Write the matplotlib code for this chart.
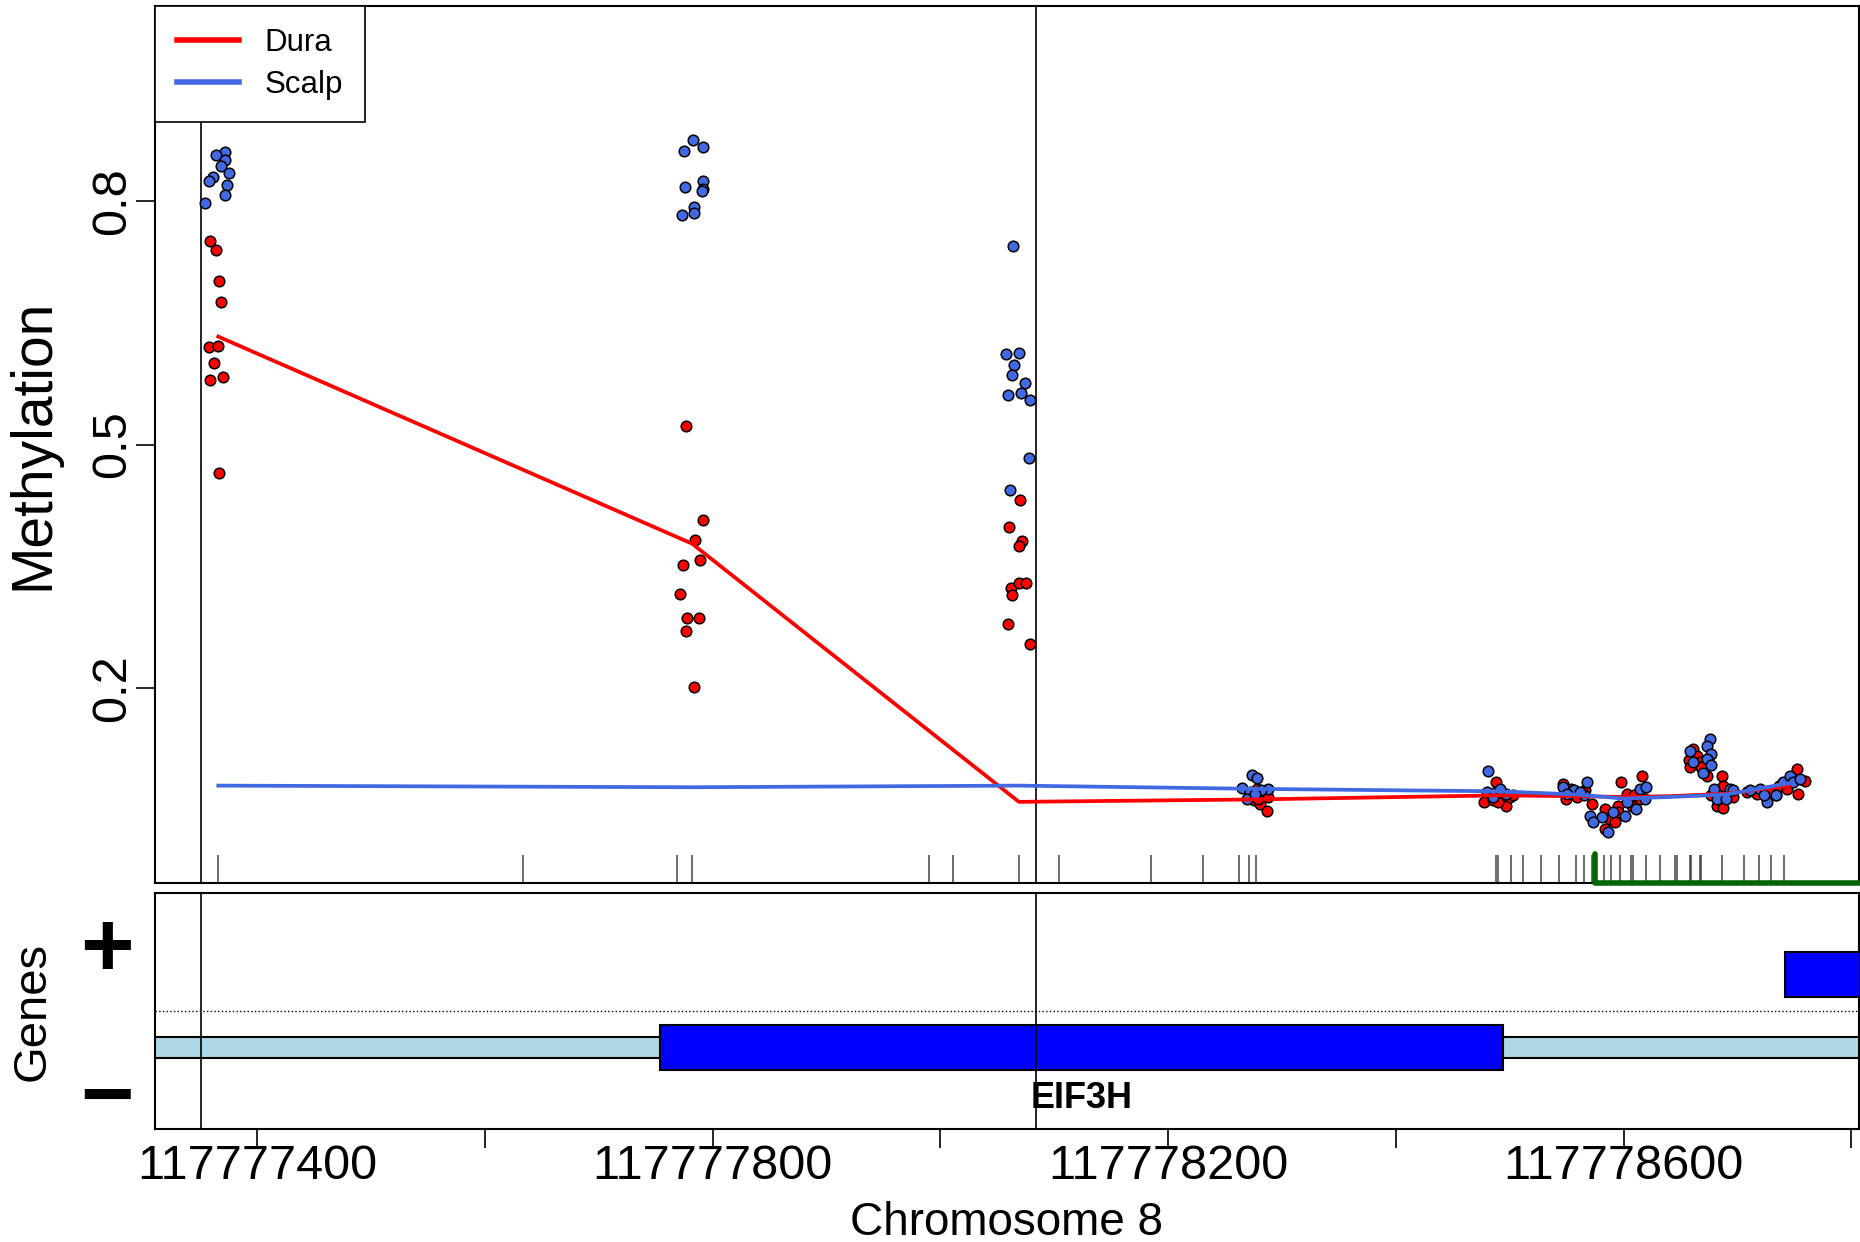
import numpy as np
import matplotlib
matplotlib.use('Agg')
import matplotlib.pyplot as plt
from matplotlib.patches import Rectangle
from matplotlib.lines import Line2D

plt.rcParams['font.family'] = ['Liberation Sans', 'DejaVu Sans']

base = 117777000  # positions below are offsets from this

# CpG sites in window (rug at bottom of top panel)
cpg_pos = [366, 634, 769, 782, 990, 1011, 1069, 1104, 1185, 1231, 1262, 1271, 1277,
           1488, 1490, 1501, 1512, 1527, 1543, 1558, 1565, 1572, 1583, 1589, 1597,
           1606, 1608, 1620, 1632, 1645, 1647, 1658, 1659, 1667, 1668, 1686, 1706,
           1719, 1729, 1741]

# Dura samples (red) : x (jittered position) / methylation
dura_x = [359, 364, 367, 368, 358, 366, 362, 359, 370, 367,
          777, 792, 785, 789, 774, 771, 778, 788, 777, 784,
          1070, 1060, 1072, 1069, 1062, 1069, 1075, 1063, 1059, 1079,
          1278, 1284, 1275, 1281, 1287, 1272, 1288, 1279,
          1488, 1477, 1485, 1497, 1493, 1500, 1490, 1503,
          1547, 1554, 1566, 1572, 1549, 1559,
          1584, 1588, 1584, 1592, 1595,
          1598, 1616, 1603, 1607, 1595, 1614, 1609,
          1661, 1664, 1657, 1667, 1658, 1668, 1673, 1686,
          1687, 1682, 1687, 1696, 1677,
          1708, 1717, 1728, 1736, 1752, 1759, 1753, 1743, 1734]
dura_y = [0.751, 0.740, 0.701, 0.675, 0.620, 0.621, 0.601, 0.580, 0.583, 0.465,
          0.523, 0.407, 0.383, 0.358, 0.352, 0.316, 0.286, 0.286, 0.271, 0.201,
          0.432, 0.399, 0.381, 0.375, 0.323, 0.329, 0.329, 0.315, 0.279, 0.254,
          0.076, 0.068, 0.062, 0.057, 0.049, 0.068, 0.066, 0.064,
          0.085, 0.060, 0.062, 0.055, 0.068, 0.066, 0.060, 0.068,
          0.082, 0.076, 0.074, 0.057, 0.064, 0.066,
          0.051, 0.039, 0.027, 0.035, 0.055,
          0.084, 0.092, 0.070, 0.055, 0.047, 0.064, 0.068,
          0.125, 0.117, 0.111, 0.109, 0.103, 0.103, 0.092, 0.092,
          0.080, 0.055, 0.053, 0.066, 0.068,
          0.072, 0.070, 0.072, 0.080, 0.100, 0.086, 0.070, 0.076, 0.068]

# Scalp samples (blue)
scalp_x = [372, 364, 372, 368, 375, 361, 358, 374, 372, 354,
           783, 775, 792, 792, 776, 792, 791, 784, 784, 773,
           1064, 1058, 1069, 1065, 1063, 1074, 1059, 1071, 1079, 1078, 1061,
           1274, 1278, 1265, 1272, 1288, 1282, 1269, 1276,
           1481, 1480, 1488, 1497, 1491, 1485,
           1547, 1556, 1568, 1565, 1550, 1562,
           1570, 1581, 1586, 1591, 1573,
           1614, 1620, 1611, 1603, 1601, 1619,
           1676, 1673, 1658, 1677, 1661, 1673, 1677, 1670,
           1679, 1693, 1682, 1690, 1696,
           1711, 1720, 1726, 1740, 1746, 1749, 1755, 1734, 1723]
scalp_y = [0.860, 0.856, 0.851, 0.843, 0.835, 0.829, 0.825, 0.820, 0.807, 0.797,
           0.875, 0.862, 0.866, 0.824, 0.817, 0.815, 0.812, 0.793, 0.785, 0.783,
           0.745, 0.612, 0.613, 0.598, 0.586, 0.576, 0.561, 0.563, 0.555, 0.484, 0.444,
           0.093, 0.089, 0.077, 0.072, 0.076, 0.074, 0.064, 0.070,
           0.098, 0.072, 0.072, 0.070, 0.076, 0.066,
           0.078, 0.074, 0.084, 0.068, 0.070, 0.072,
           0.042, 0.041, 0.023, 0.047, 0.035,
           0.076, 0.078, 0.051, 0.060, 0.043, 0.064,
           0.137, 0.129, 0.123, 0.119, 0.109, 0.113, 0.105, 0.096,
           0.076, 0.076, 0.064, 0.064, 0.074,
           0.074, 0.076, 0.060, 0.084, 0.092, 0.084, 0.088, 0.068, 0.068]

# smoothed group lines
line_x = [366, 782, 1069, 1277, 1490, 1560, 1600, 1640, 1690, 1745]
dura_line = [0.633, 0.378, 0.060, 0.063, 0.068, 0.067, 0.066, 0.067, 0.070, 0.080]
scalp_line = [0.080, 0.078, 0.080, 0.076, 0.073, 0.069, 0.064, 0.066, 0.069, 0.083]

dmr_bounds = [351, 1084]   # vertical lines
cgi_start = 1575           # green island segment start

# genes track
tx_minus = (200, 1900)     # EIF3H transcript (extends past the window)
cds_minus = (754, 1494)
gene_label = 'EIF3H'
tx_plus = (1742, 1900)

xlim = (base + 310.4, base + 1806.2)
ylim = (-0.04, 1.04)

fig = plt.figure(figsize=(18.6, 12.42), dpi=100)
ax = fig.add_axes([0.0833, 0.2890, 0.9159, 0.7061])
ax2 = fig.add_axes([0.0833, 0.0910, 0.9159, 0.1900])

dx = base + np.array(dura_x)
sx = base + np.array(scalp_x)

ax.scatter(dx, dura_y, s=58, c='red', edgecolors='black', linewidths=1.1, zorder=3)
ax.scatter(sx, scalp_y, s=58, c='royalblue', edgecolors='black', linewidths=1.1, zorder=3)
lx = base + np.array(line_x)
ax.plot(lx, dura_line, color='red', lw=2.7, zorder=4)
ax.plot(lx, scalp_line, color='royalblue', lw=2.7, zorder=5)

# rug of CpG sites
ax.vlines(base + np.array(cpg_pos), ylim[0], -0.006, colors='#444444', lw=1.1, zorder=2)
# CpG island
ax.plot([base + cgi_start, base + cgi_start, xlim[1]], [-0.004, ylim[0], ylim[0]],
        color='darkgreen', lw=4, solid_capstyle='round', clip_on=False, zorder=6)

for b in dmr_bounds:
    ax.axvline(base + b, color='black', lw=1.2, zorder=2)
    ax2.axvline(base + b, color='black', lw=1.2, zorder=5)

ax.set_xlim(xlim)
ax.set_ylim(ylim)
ax.tick_params(axis='x', bottom=False, labelbottom=False)
ax.set_yticks([0.2, 0.5, 0.8])
ax.set_yticklabels(['0.2', '0.5', '0.8'], rotation=90, va='center')
ax.tick_params(axis='y', length=14, width=1.2, labelsize=35, pad=0)
for sp in ax.spines.values():
    sp.set_linewidth(1.5)
ax.text(-0.0716, 0.5, 'Methylation', transform=ax.transAxes, rotation=90,
        ha='center', va='center', fontsize=41)

leg = ax.legend(handles=[Line2D([], [], color='red', lw=4),
                         Line2D([], [], color='royalblue', lw=4)],
                labels=['Dura', 'Scalp'], loc='upper left', borderaxespad=0,
                fancybox=False, edgecolor='black', framealpha=1, fontsize=22.5,
                handlelength=2.0, handletextpad=0.8, borderpad=0.7, labelspacing=0.38)
leg.get_frame().set_linewidth(1.2)

# genes panel
ax2.set_xlim(xlim)
ax2.set_ylim(0, 1)
ax2.axhline(0.5, color='black', ls=':', lw=1)
ax2.add_patch(Rectangle((base + tx_minus[0], 0.30), tx_minus[1] - tx_minus[0], 0.09,
                        facecolor='lightblue', edgecolor='black', lw=1.5, zorder=2))
ax2.add_patch(Rectangle((base + cds_minus[0], 0.25), cds_minus[1] - cds_minus[0], 0.19,
                        facecolor='blue', edgecolor='black', lw=1.5, zorder=3))
ax2.add_patch(Rectangle((base + tx_plus[0], 0.56), tx_plus[1] - tx_plus[0], 0.19,
                        facecolor='blue', edgecolor='black', lw=1.5, zorder=3))
ax2.text(base + (cds_minus[0] + cds_minus[1]) / 2, 0.13, gene_label,
         ha='center', va='center', fontsize=26, fontweight='bold')

tr = ax2.get_yaxis_transform()
ax2.text(-0.028, 0.75, '+', transform=tr, ha='center', va='center',
         fontsize=66, fontweight='bold')
ax2.text(-0.028, 0.12, '\u2212', transform=tr, ha='center', va='center',
         fontsize=66, fontweight='bold')
ax2.text(-0.0716, 0.5, 'Genes', transform=ax2.transAxes, rotation=90,
         ha='center', va='center', fontsize=34)

ticks = [base + t for t in range(400, 1801, 200)]
ax2.set_yticks([])
ax2.set_xticks(ticks)
ax2.set_xticklabels([str(t) if (t - base) % 400 == 0 else '' for t in ticks])
ax2.tick_params(axis='x', length=14, width=1.2, labelsize=35, pad=-3)
for sp in ax2.spines.values():
    sp.set_linewidth(1.5)
ax2.text(0.5, -0.40, 'Chromosome 8', transform=ax2.transAxes,
         ha='center', va='center', fontsize=33)

fig.savefig('out.png', dpi=100)
